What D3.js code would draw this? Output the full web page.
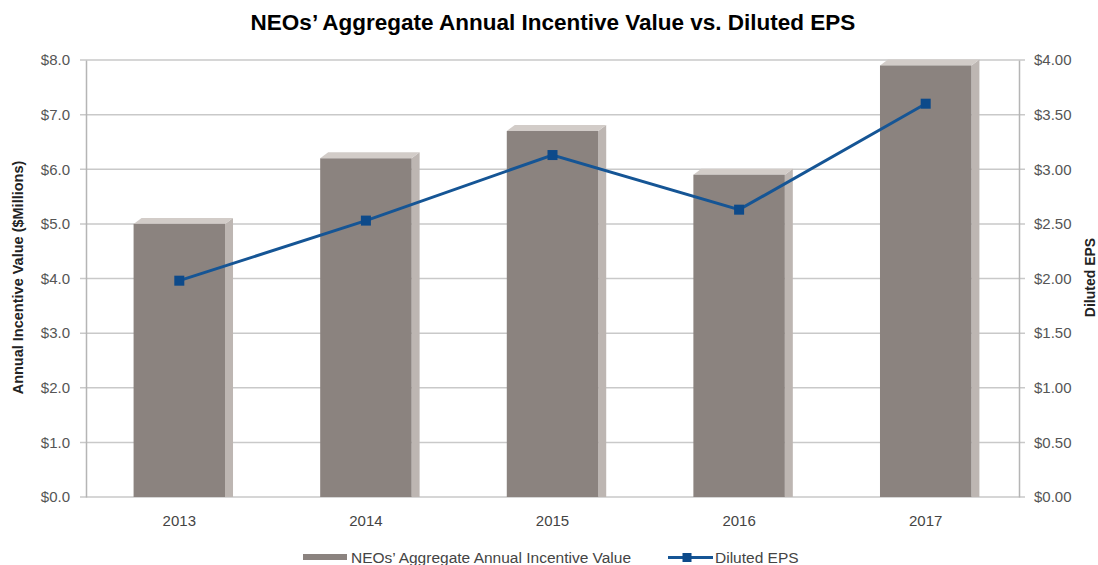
<!DOCTYPE html>
<html>
<head>
<meta charset="utf-8">
<script src="https://cdn.jsdelivr.net/npm/d3@7"></script>
<style>
  body { margin: 0; background: #fff; }
  text { font-family: "Liberation Sans", Arial, sans-serif; }
</style>
</head>
<body>
<script>
// Data
const years = ["2013", "2014", "2015", "2016", "2017"];
const incentiveValues = [5.0, 6.2, 6.7, 5.9, 7.9];
const dilutedEps = [1.98, 2.53, 3.13, 2.63, 3.60];
const leftTicks = [0, 1, 2, 3, 4, 5, 6, 7, 8];
const rightTicks = [0, 0.5, 1, 1.5, 2, 2.5, 3, 3.5, 4];

const W = 1098, H = 565;
const margin = { top: 60, right: 79, bottom: 68, left: 86 };
const width = W - margin.left - margin.right;
const height = H - margin.top - margin.bottom;

const svg = d3.select("body").append("svg")
    .attr("width", W)
    .attr("height", H);

// Title
svg.append("text")
    .attr("x", 553)
    .attr("y", 30)
    .attr("text-anchor", "middle")
    .style("font-size", "22.5px")
    .style("font-weight", "bold")
    .attr("fill", "#000")
    .text("NEOs\u2019 Aggregate Annual Incentive Value vs. Diluted EPS");

const chart = svg.append("g")
    .attr("transform", `translate(${margin.left},${margin.top})`);

const x = d3.scaleBand()
    .domain(years)
    .range([0, width]);

const yL = d3.scaleLinear().domain([0, 8]).range([height, 0]);
const yR = d3.scaleLinear().domain([0, 4]).range([height, 0]);

// Grid lines
chart.append("g")
    .selectAll("line")
    .data(leftTicks)
    .join("line")
    .attr("x1", -6)
    .attr("x2", width + 6)
    .attr("y1", d => yL(d))
    .attr("y2", d => yL(d))
    .attr("stroke", "#c9c9c9")
    .attr("stroke-width", 1.5);

// Left axis
const leftAxis = chart.append("g")
    .call(d3.axisLeft(yL).tickValues(leftTicks).tickSize(0).tickPadding(16)
        .tickFormat(d => "$" + d3.format(".1f")(d)));
leftAxis.select(".domain").attr("stroke", "#b5b5b5").attr("stroke-width", 1.5);
leftAxis.selectAll("text").style("font-size", "15px").attr("fill", "#555");

// Right axis
const rightAxis = chart.append("g")
    .attr("transform", `translate(${width},0)`)
    .call(d3.axisRight(yR).tickValues(rightTicks).tickSize(0).tickPadding(15)
        .tickFormat(d => "$" + d3.format(".2f")(d)));
rightAxis.select(".domain").attr("stroke", "#b5b5b5").attr("stroke-width", 1.5);
rightAxis.selectAll("text").style("font-size", "15px").attr("fill", "#555");

// X labels
chart.append("g")
    .selectAll("text")
    .data(years)
    .join("text")
    .attr("x", d => x(d) + x.bandwidth() / 2)
    .attr("y", height + 29)
    .attr("text-anchor", "middle")
    .style("font-size", "15px")
    .attr("fill", "#444")
    .text(d => d);

// 3D bars
const barW = x.bandwidth() * 0.49;
const dx = 8, dy = 6;
const barData = years.map((yr, i) => ({ year: yr, value: incentiveValues[i] }));

const bars = chart.append("g")
    .selectAll("g")
    .data(barData)
    .join("g")
    .attr("transform", d => `translate(${x(d.year) + x.bandwidth() / 2 - barW / 2},0)`);

// side face
bars.append("path")
    .attr("d", d => {
        const top = yL(d.value);
        return `M${barW},${top} L${barW + dx},${top - dy} L${barW + dx},${height} L${barW},${height} Z`;
    })
    .attr("fill", "#bdb6b2");

// top face
bars.append("path")
    .attr("d", d => {
        const top = yL(d.value);
        return `M0,${top} L${dx},${top - dy} L${barW + dx},${top - dy} L${barW},${top} Z`;
    })
    .attr("fill", "#d2ccc8");

// front face
bars.append("rect")
    .attr("x", 0)
    .attr("y", d => yL(d.value))
    .attr("width", barW)
    .attr("height", d => height - yL(d.value))
    .attr("fill", "#8b837f");

// EPS line
const epsData = years.map((yr, i) => ({ year: yr, value: dilutedEps[i] }));
const line = d3.line()
    .x(d => x(d.year) + x.bandwidth() / 2)
    .y(d => yR(d.value));

chart.append("path")
    .datum(epsData)
    .attr("d", line)
    .attr("fill", "none")
    .attr("stroke", "#155595")
    .attr("stroke-width", 3);

chart.append("g")
    .selectAll("rect")
    .data(epsData)
    .join("rect")
    .attr("x", d => x(d.year) + x.bandwidth() / 2 - 5)
    .attr("y", d => yR(d.value) - 5)
    .attr("width", 10)
    .attr("height", 10)
    .attr("fill", "#0d4a8a");

// Axis titles
svg.append("text")
    .attr("transform", `translate(23,${margin.top + height / 2 - 1}) rotate(-90)`)
    .attr("text-anchor", "middle")
    .style("font-size", "14.5px")
    .style("font-weight", "bold")
    .attr("fill", "#222")
    .text("Annual Incentive Value ($Millions)");

svg.append("text")
    .attr("transform", `translate(1095,${margin.top + height / 2 - 1}) rotate(-90)`)
    .attr("text-anchor", "middle")
    .style("font-size", "14px")
    .style("font-weight", "bold")
    .attr("fill", "#222")
    .text("Diluted EPS");

// Legend
const legend = svg.append("g");
legend.append("rect")
    .attr("x", 303).attr("y", 554)
    .attr("width", 44).attr("height", 6)
    .attr("fill", "#8b837f");
legend.append("text")
    .attr("x", 351).attr("y", 563)
    .style("font-size", "15.5px")
    .attr("fill", "#444")
    .text("NEOs\u2019 Aggregate Annual Incentive Value");

legend.append("line")
    .attr("x1", 668).attr("x2", 713)
    .attr("y1", 557.5).attr("y2", 557.5)
    .attr("stroke", "#155595")
    .attr("stroke-width", 3);
legend.append("rect")
    .attr("x", 682.5).attr("y", 553)
    .attr("width", 9).attr("height", 9)
    .attr("fill", "#0d4a8a");
legend.append("text")
    .attr("x", 715).attr("y", 563)
    .style("font-size", "15.5px")
    .attr("fill", "#444")
    .text("Diluted EPS");
</script>
</body>
</html>
